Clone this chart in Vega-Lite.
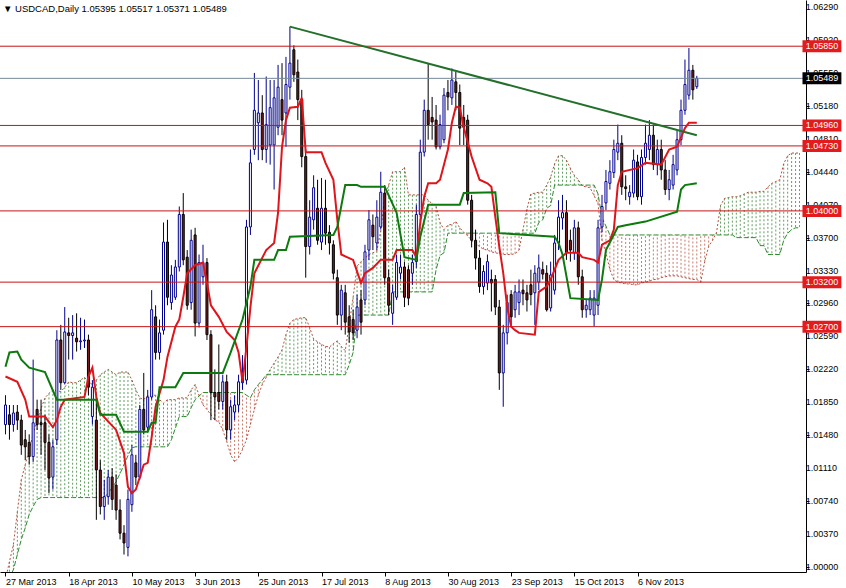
{
"$schema": "https://vega.github.io/schema/vega-lite/v6.json",
"width": 806, "height": 572,
"autosize": {"type": "none"},
"padding": {"left": 0, "top": 0, "right": 40, "bottom": 16},
"background": "white",
"title": {"text": "▼    USDCAD,Daily  1.05395 1.05517 1.05371 1.05489", "anchor": "start", "frame": "group", "orient": "top", "offset": -13, "dx": 3, "fontSize": 9.5, "fontWeight": "normal", "font": "Liberation Sans, sans-serif", "color": "#000"},
"config": {"view": {"stroke": null}, "axis": {"labelFont": "Liberation Sans, sans-serif", "labelFontSize": 9, "labelColor": "#000", "domainColor": "#000", "tickColor": "#000", "domainWidth": 1, "tickWidth": 1, "grid": false, "labelOverlap": false, "labelBound": false, "labelFlush": false}},
"datasets": {
"candles": [
{"i":0,"o":1.016,"h":1.0193,"l":1.0149,"c":1.0182},{"i":1,"o":1.0171,"h":1.0182,"l":1.0143,"c":1.016},{"i":2,"o":1.016,"h":1.0182,"l":1.0152,"c":1.0173},{"i":3,"o":1.0174,"h":1.0182,"l":1.0154,"c":1.0165},{"i":4,"o":1.0165,"h":1.0171,"l":1.0126,"c":1.0137},{"i":5,"o":1.0143,"h":1.0154,"l":1.012,"c":1.0135},{"i":6,"o":1.014,"h":1.0149,"l":1.0115,"c":1.0124},{"i":7,"o":1.0124,"h":1.0233,"l":1.0118,"c":1.0162},{"i":8,"o":1.0177,"h":1.0188,"l":1.0154,"c":1.016},{"i":9,"o":1.0162,"h":1.0188,"l":1.0126,"c":1.016},
{"i":10,"o":1.0162,"h":1.0171,"l":1.0109,"c":1.014},{"i":11,"o":1.014,"h":1.0149,"l":1.0083,"c":1.01},{"i":12,"o":1.0101,"h":1.0143,"l":1.0087,"c":1.0135},{"i":13,"o":1.0143,"h":1.0266,"l":1.0137,"c":1.0255},{"i":14,"o":1.0255,"h":1.0272,"l":1.0199,"c":1.0207},{"i":15,"o":1.0207,"h":1.0292,"l":1.0205,"c":1.0264},{"i":16,"o":1.0263,"h":1.028,"l":1.0233,"c":1.026},{"i":17,"o":1.026,"h":1.0283,"l":1.0233,"c":1.0263},{"i":18,"o":1.0257,"h":1.0285,"l":1.0242,"c":1.0253},{"i":19,"o":1.0253,"h":1.028,"l":1.0244,"c":1.0254},
{"i":20,"o":1.0254,"h":1.0278,"l":1.0246,"c":1.0255},{"i":21,"o":1.0255,"h":1.0261,"l":1.0193,"c":1.0202},{"i":22,"o":1.0169,"h":1.021,"l":1.016,"c":1.0202},{"i":23,"o":1.0165,"h":1.0191,"l":1.0053,"c":1.0109},{"i":24,"o":1.0109,"h":1.012,"l":1.0059,"c":1.0068},{"i":25,"o":1.0068,"h":1.0098,"l":1.0053,"c":1.0079},{"i":26,"o":1.0079,"h":1.0109,"l":1.007,"c":1.0101},{"i":27,"o":1.0101,"h":1.0111,"l":1.0064,"c":1.0076},{"i":28,"o":1.0092,"h":1.0104,"l":1.0053,"c":1.0064},{"i":29,"o":1.0064,"h":1.0076,"l":1.0031,"c":1.0038},
{"i":30,"o":1.0038,"h":1.0047,"l":1.0014,"c":1.0027},{"i":31,"o":1.0022,"h":1.0087,"l":1.0012,"c":1.0076},{"i":32,"o":1.007,"h":1.0137,"l":1.0062,"c":1.0126},{"i":33,"o":1.0117,"h":1.0126,"l":1.0092,"c":1.0101},{"i":34,"o":1.0101,"h":1.0182,"l":1.0098,"c":1.0177},{"i":35,"o":1.0177,"h":1.0218,"l":1.0149,"c":1.0154},{"i":36,"o":1.0157,"h":1.0199,"l":1.0152,"c":1.0191},{"i":37,"o":1.0191,"h":1.0311,"l":1.0188,"c":1.0289},{"i":38,"o":1.0281,"h":1.0294,"l":1.0233,"c":1.0241},{"i":39,"o":1.0241,"h":1.0278,"l":1.0233,"c":1.0263},
{"i":40,"o":1.0266,"h":1.0387,"l":1.0261,"c":1.0365},{"i":41,"o":1.0365,"h":1.039,"l":1.0294,"c":1.0303},{"i":42,"o":1.0297,"h":1.0339,"l":1.0289,"c":1.0328},{"i":43,"o":1.0303,"h":1.0345,"l":1.03,"c":1.0337},{"i":44,"o":1.0337,"h":1.0405,"l":1.0332,"c":1.0396},{"i":45,"o":1.0396,"h":1.042,"l":1.0339,"c":1.0345},{"i":46,"o":1.0348,"h":1.0356,"l":1.0289,"c":1.0294},{"i":47,"o":1.0297,"h":1.0379,"l":1.0289,"c":1.0367},{"i":48,"o":1.0373,"h":1.0381,"l":1.0259,"c":1.0274},{"i":49,"o":1.0274,"h":1.0351,"l":1.0269,"c":1.0342},
{"i":50,"o":1.0326,"h":1.0362,"l":1.0317,"c":1.0342},{"i":51,"o":1.0342,"h":1.0347,"l":1.0255,"c":1.0261},{"i":52,"o":1.0261,"h":1.0266,"l":1.0165,"c":1.0196},{"i":53,"o":1.0196,"h":1.0222,"l":1.0165,"c":1.0191},{"i":54,"o":1.0196,"h":1.025,"l":1.0177,"c":1.0186},{"i":55,"o":1.0186,"h":1.0216,"l":1.0177,"c":1.0208},{"i":56,"o":1.0208,"h":1.0216,"l":1.0143,"c":1.0154},{"i":57,"o":1.0154,"h":1.0188,"l":1.0143,"c":1.018},{"i":58,"o":1.0174,"h":1.0193,"l":1.0165,"c":1.0182},{"i":59,"o":1.0182,"h":1.0216,"l":1.0174,"c":1.0208},
{"i":60,"o":1.0207,"h":1.0238,"l":1.0199,"c":1.0218},{"i":61,"o":1.021,"h":1.039,"l":1.0205,"c":1.0382},{"i":62,"o":1.0382,"h":1.0469,"l":1.0373,"c":1.0454},{"i":63,"o":1.0469,"h":1.0555,"l":1.0463,"c":1.0513},{"i":64,"o":1.0499,"h":1.0547,"l":1.0457,"c":1.051},{"i":65,"o":1.051,"h":1.053,"l":1.0457,"c":1.0469},{"i":66,"o":1.0469,"h":1.0551,"l":1.0454,"c":1.0497},{"i":67,"o":1.0474,"h":1.0547,"l":1.0452,"c":1.0516},{"i":68,"o":1.0474,"h":1.0547,"l":1.0424,"c":1.0527},{"i":69,"o":1.0494,"h":1.0564,"l":1.0485,"c":1.0539},
{"i":70,"o":1.0525,"h":1.0566,"l":1.0485,"c":1.0502},{"i":71,"o":1.051,"h":1.0573,"l":1.0472,"c":1.0542},{"i":72,"o":1.0539,"h":1.0607,"l":1.0525,"c":1.0566},{"i":73,"o":1.0581,"h":1.0586,"l":1.0545,"c":1.0553},{"i":74,"o":1.0556,"h":1.057,"l":1.0502,"c":1.0525},{"i":75,"o":1.0525,"h":1.0536,"l":1.0449,"c":1.0461},{"i":76,"o":1.0461,"h":1.0469,"l":1.0325,"c":1.036},{"i":77,"o":1.036,"h":1.0412,"l":1.0351,"c":1.0393},{"i":78,"o":1.039,"h":1.044,"l":1.0379,"c":1.0426},{"i":79,"o":1.0403,"h":1.0435,"l":1.0362,"c":1.0367},
{"i":80,"o":1.0365,"h":1.0437,"l":1.0356,"c":1.0403},{"i":81,"o":1.0403,"h":1.0435,"l":1.0362,"c":1.0375},{"i":82,"o":1.0376,"h":1.0384,"l":1.0351,"c":1.0364},{"i":83,"o":1.0362,"h":1.0367,"l":1.0323,"c":1.033},{"i":84,"o":1.0325,"h":1.0334,"l":1.0272,"c":1.0283},{"i":85,"o":1.0283,"h":1.0317,"l":1.0266,"c":1.0311},{"i":86,"o":1.0308,"h":1.0317,"l":1.0261,"c":1.0275},{"i":87,"o":1.0281,"h":1.0294,"l":1.0252,"c":1.0264},{"i":88,"o":1.0278,"h":1.0289,"l":1.0255,"c":1.0263},{"i":89,"o":1.0266,"h":1.0306,"l":1.0257,"c":1.0292},
{"i":90,"o":1.03,"h":1.0311,"l":1.0261,"c":1.0275},{"i":91,"o":1.03,"h":1.0362,"l":1.0294,"c":1.0354},{"i":92,"o":1.0356,"h":1.0401,"l":1.0345,"c":1.039},{"i":93,"o":1.0384,"h":1.0396,"l":1.0356,"c":1.0371},{"i":94,"o":1.0364,"h":1.0412,"l":1.0356,"c":1.0393},{"i":95,"o":1.0382,"h":1.0444,"l":1.0379,"c":1.0421},{"i":96,"o":1.042,"h":1.0429,"l":1.0317,"c":1.0325},{"i":97,"o":1.0325,"h":1.0334,"l":1.0283,"c":1.0294},{"i":98,"o":1.0285,"h":1.0317,"l":1.0272,"c":1.0308},{"i":99,"o":1.0303,"h":1.0351,"l":1.03,"c":1.0342},
{"i":100,"o":1.033,"h":1.0351,"l":1.0323,"c":1.0337},{"i":101,"o":1.0337,"h":1.0343,"l":1.0292,"c":1.0303},{"i":102,"o":1.0334,"h":1.0339,"l":1.0294,"c":1.0302},{"i":103,"o":1.033,"h":1.0351,"l":1.0317,"c":1.0342},{"i":104,"o":1.0343,"h":1.0407,"l":1.0336,"c":1.0396},{"i":105,"o":1.0396,"h":1.048,"l":1.0388,"c":1.0466},{"i":106,"o":1.0466,"h":1.0525,"l":1.0461,"c":1.0513},{"i":107,"o":1.0513,"h":1.0566,"l":1.048,"c":1.0497},{"i":108,"o":1.0505,"h":1.0528,"l":1.048,"c":1.05},{"i":109,"o":1.0502,"h":1.0519,"l":1.0469,"c":1.0472},
{"i":110,"o":1.0472,"h":1.0508,"l":1.0469,"c":1.0497},{"i":111,"o":1.048,"h":1.0538,"l":1.0476,"c":1.053},{"i":112,"o":1.0533,"h":1.0547,"l":1.0513,"c":1.0528},{"i":113,"o":1.0527,"h":1.056,"l":1.0519,"c":1.0547},{"i":114,"o":1.0545,"h":1.0556,"l":1.0513,"c":1.0533},{"i":115,"o":1.0533,"h":1.0542,"l":1.0474,"c":1.0493},{"i":116,"o":1.0505,"h":1.0519,"l":1.0474,"c":1.0494},{"i":117,"o":1.0502,"h":1.0508,"l":1.0407,"c":1.0412},{"i":118,"o":1.0412,"h":1.0418,"l":1.0359,"c":1.0367},{"i":119,"o":1.0367,"h":1.0379,"l":1.0334,"c":1.0347},
{"i":120,"o":1.0347,"h":1.0356,"l":1.0308,"c":1.0315},{"i":121,"o":1.0315,"h":1.0339,"l":1.0306,"c":1.0332},{"i":122,"o":1.0319,"h":1.0351,"l":1.0311,"c":1.0343},{"i":123,"o":1.0323,"h":1.0334,"l":1.0287,"c":1.0319},{"i":124,"o":1.0323,"h":1.0328,"l":1.0283,"c":1.0292},{"i":125,"o":1.0292,"h":1.03,"l":1.0199,"c":1.0218},{"i":126,"o":1.0218,"h":1.0272,"l":1.018,"c":1.0263},{"i":127,"o":1.0263,"h":1.0306,"l":1.025,"c":1.0297},{"i":128,"o":1.0306,"h":1.0311,"l":1.0272,"c":1.0281},{"i":129,"o":1.0289,"h":1.0317,"l":1.028,"c":1.0309},
{"i":130,"o":1.0297,"h":1.0323,"l":1.0283,"c":1.0309},{"i":131,"o":1.0311,"h":1.0323,"l":1.0294,"c":1.0307},{"i":132,"o":1.0308,"h":1.0317,"l":1.0287,"c":1.03},{"i":133,"o":1.0317,"h":1.0334,"l":1.0294,"c":1.0306},{"i":134,"o":1.0308,"h":1.0339,"l":1.0272,"c":1.033},{"i":135,"o":1.032,"h":1.0351,"l":1.0311,"c":1.0336},{"i":136,"o":1.0334,"h":1.0343,"l":1.0323,"c":1.0329},{"i":137,"o":1.033,"h":1.0339,"l":1.0287,"c":1.0289},{"i":138,"o":1.0291,"h":1.0343,"l":1.0287,"c":1.0328},{"i":139,"o":1.0311,"h":1.0373,"l":1.0306,"c":1.0364},
{"i":140,"o":1.0364,"h":1.0412,"l":1.0356,"c":1.0393},{"i":141,"o":1.0392,"h":1.0418,"l":1.0379,"c":1.0398},{"i":142,"o":1.0398,"h":1.0412,"l":1.0345,"c":1.0353},{"i":143,"o":1.0367,"h":1.0379,"l":1.0343,"c":1.0356},{"i":144,"o":1.0353,"h":1.039,"l":1.0345,"c":1.0381},{"i":145,"o":1.0381,"h":1.0388,"l":1.0317,"c":1.0326},{"i":146,"o":1.0326,"h":1.0334,"l":1.028,"c":1.0289},{"i":147,"o":1.0289,"h":1.03,"l":1.028,"c":1.0294},{"i":148,"o":1.0289,"h":1.0311,"l":1.0283,"c":1.0302},{"i":149,"o":1.0283,"h":1.0311,"l":1.027,"c":1.0302},
{"i":150,"o":1.0294,"h":1.039,"l":1.0283,"c":1.0381},{"i":151,"o":1.0382,"h":1.0418,"l":1.0376,"c":1.0405},{"i":152,"o":1.0409,"h":1.0446,"l":1.0401,"c":1.0433},{"i":153,"o":1.0431,"h":1.0457,"l":1.0424,"c":1.0444},{"i":154,"o":1.0443,"h":1.048,"l":1.0437,"c":1.0469},{"i":155,"o":1.0466,"h":1.0497,"l":1.0457,"c":1.0476},{"i":156,"o":1.0476,"h":1.0485,"l":1.0418,"c":1.0427},{"i":157,"o":1.0427,"h":1.044,"l":1.0412,"c":1.0425},{"i":158,"o":1.0416,"h":1.0429,"l":1.0407,"c":1.0421},{"i":159,"o":1.042,"h":1.0469,"l":1.0415,"c":1.0457},
{"i":160,"o":1.0455,"h":1.0463,"l":1.0412,"c":1.0416},{"i":161,"o":1.0416,"h":1.0469,"l":1.0407,"c":1.046},{"i":162,"o":1.046,"h":1.0497,"l":1.0452,"c":1.0476},{"i":163,"o":1.0469,"h":1.0502,"l":1.0457,"c":1.0485},{"i":164,"o":1.0485,"h":1.0497,"l":1.0446,"c":1.0452},{"i":165,"o":1.0452,"h":1.048,"l":1.044,"c":1.0469},{"i":166,"o":1.0469,"h":1.048,"l":1.0435,"c":1.0446},{"i":167,"o":1.0446,"h":1.0457,"l":1.0418,"c":1.0424},{"i":168,"o":1.0424,"h":1.0446,"l":1.0412,"c":1.0435},{"i":169,"o":1.0429,"h":1.0463,"l":1.0424,"c":1.0452},
{"i":170,"o":1.0446,"h":1.0491,"l":1.044,"c":1.048},{"i":171,"o":1.048,"h":1.0525,"l":1.0474,"c":1.0513},{"i":172,"o":1.0513,"h":1.057,"l":1.0508,"c":1.0542},{"i":173,"o":1.053,"h":1.0583,"l":1.0525,"c":1.0558},{"i":174,"o":1.0558,"h":1.0564,"l":1.0525,"c":1.0536},{"i":175,"o":1.05395,"h":1.05517,"l":1.05371,"c":1.05489}
],
"cloud": [
{"i":0,"a":0.9986,"b":0.998},{"i":1,"a":1.0006,"b":0.9988},{"i":2,"a":1.0025,"b":0.9997},{"i":3,"a":1.0062,"b":1.0014},{"i":4,"a":1.0098,"b":1.0031},{"i":5,"a":1.0115,"b":1.0044},{"i":6,"a":1.0132,"b":1.0059},{"i":7,"a":1.0149,"b":1.0068},{"i":8,"a":1.0165,"b":1.0076},{"i":9,"a":1.0178,"b":1.0078},
{"i":10,"a":1.019,"b":1.0078},{"i":11,"a":1.0195,"b":1.0078},{"i":12,"a":1.0199,"b":1.0078},{"i":13,"a":1.0198,"b":1.0078},{"i":14,"a":1.0197,"b":1.0078},{"i":15,"a":1.0202,"b":1.0078},{"i":16,"a":1.0208,"b":1.0078},{"i":17,"a":1.0207,"b":1.0078},{"i":18,"a":1.0207,"b":1.0078},{"i":19,"a":1.021,"b":1.0078},
{"i":20,"a":1.0213,"b":1.0078},{"i":21,"a":1.0208,"b":1.0078},{"i":22,"a":1.0205,"b":1.0078},{"i":23,"a":1.021,"b":1.0078},{"i":24,"a":1.0216,"b":1.0078},{"i":25,"a":1.0219,"b":1.0078},{"i":26,"a":1.0222,"b":1.0083},{"i":27,"a":1.0219,"b":1.0089},{"i":28,"a":1.0216,"b":1.0096},{"i":29,"a":1.0219,"b":1.0105},
{"i":30,"a":1.0219,"b":1.0115},{"i":31,"a":1.0219,"b":1.0125},{"i":32,"a":1.021,"b":1.0134},{"i":33,"a":1.0199,"b":1.0135},{"i":34,"a":1.019,"b":1.0135},{"i":35,"a":1.0188,"b":1.0135},{"i":36,"a":1.0193,"b":1.0135},{"i":37,"a":1.0193,"b":1.0135},{"i":38,"a":1.0193,"b":1.0135},{"i":39,"a":1.0188,"b":1.0135},
{"i":40,"a":1.0184,"b":1.0135},{"i":41,"a":1.0188,"b":1.0135},{"i":42,"a":1.0188,"b":1.0143},{"i":43,"a":1.0188,"b":1.0156},{"i":44,"a":1.019,"b":1.0169},{"i":45,"a":1.019,"b":1.0169},{"i":46,"a":1.019,"b":1.0169},{"i":47,"a":1.0199,"b":1.0179},{"i":48,"a":1.0205,"b":1.0188},{"i":49,"a":1.0193,"b":1.0192},
{"i":50,"a":1.0182,"b":1.0196},{"i":51,"a":1.0177,"b":1.0196},{"i":52,"a":1.0171,"b":1.0196},{"i":53,"a":1.0165,"b":1.0196},{"i":54,"a":1.0163,"b":1.0196},{"i":55,"a":1.0154,"b":1.0196},{"i":56,"a":1.0141,"b":1.0196},{"i":57,"a":1.0126,"b":1.0196},{"i":58,"a":1.0118,"b":1.0196},{"i":59,"a":1.0123,"b":1.0196},
{"i":60,"a":1.0132,"b":1.0196},{"i":61,"a":1.0143,"b":1.0193},{"i":62,"a":1.016,"b":1.019},{"i":63,"a":1.0177,"b":1.0199},{"i":64,"a":1.0193,"b":1.0205},{"i":65,"a":1.0205,"b":1.021},{"i":66,"a":1.0213,"b":1.0216},{"i":67,"a":1.0222,"b":1.0216},{"i":68,"a":1.0229,"b":1.0216},{"i":69,"a":1.0236,"b":1.0216},
{"i":70,"a":1.0244,"b":1.0216},{"i":71,"a":1.0261,"b":1.0216},{"i":72,"a":1.0274,"b":1.0216},{"i":73,"a":1.0278,"b":1.0216},{"i":74,"a":1.0279,"b":1.0216},{"i":75,"a":1.028,"b":1.0216},{"i":76,"a":1.028,"b":1.0216},{"i":77,"a":1.0269,"b":1.0216},{"i":78,"a":1.0256,"b":1.0216},{"i":79,"a":1.0253,"b":1.0216},
{"i":80,"a":1.025,"b":1.0216},{"i":81,"a":1.0248,"b":1.0216},{"i":82,"a":1.0247,"b":1.0216},{"i":83,"a":1.0251,"b":1.0216},{"i":84,"a":1.0254,"b":1.0216},{"i":85,"a":1.0248,"b":1.0216},{"i":86,"a":1.0243,"b":1.0216},{"i":87,"a":1.0272,"b":1.0227},{"i":88,"a":1.0303,"b":1.0241},{"i":89,"a":1.0338,"b":1.0283},
{"i":90,"a":1.0343,"b":1.0283},{"i":91,"a":1.0347,"b":1.0283},{"i":92,"a":1.0351,"b":1.0283},{"i":93,"a":1.0353,"b":1.0283},{"i":94,"a":1.0355,"b":1.0283},{"i":95,"a":1.0378,"b":1.0283},{"i":96,"a":1.0415,"b":1.0283},{"i":97,"a":1.0429,"b":1.0283},{"i":98,"a":1.0444,"b":1.0309},{"i":99,"a":1.0444,"b":1.0309},
{"i":100,"a":1.0444,"b":1.0309},{"i":101,"a":1.0449,"b":1.0309},{"i":102,"a":1.0418,"b":1.0309},{"i":103,"a":1.0418,"b":1.0309},{"i":104,"a":1.0418,"b":1.0309},{"i":105,"a":1.0418,"b":1.0309},{"i":106,"a":1.0418,"b":1.0309},{"i":107,"a":1.0412,"b":1.0309},{"i":108,"a":1.0408,"b":1.0309},{"i":109,"a":1.0405,"b":1.0334},
{"i":110,"a":1.0387,"b":1.035},{"i":111,"a":1.0379,"b":1.0353},{"i":112,"a":1.0384,"b":1.0375},{"i":113,"a":1.0385,"b":1.0375},{"i":114,"a":1.0388,"b":1.0375},{"i":115,"a":1.0381,"b":1.0375},{"i":116,"a":1.0376,"b":1.0375},{"i":117,"a":1.0372,"b":1.0375},{"i":118,"a":1.0367,"b":1.0375},{"i":119,"a":1.0363,"b":1.0375},
{"i":120,"a":1.036,"b":1.0375},{"i":121,"a":1.0357,"b":1.0375},{"i":122,"a":1.0356,"b":1.0375},{"i":123,"a":1.0354,"b":1.0375},{"i":124,"a":1.0353,"b":1.0375},{"i":125,"a":1.0352,"b":1.0375},{"i":126,"a":1.0351,"b":1.0375},{"i":127,"a":1.0351,"b":1.0375},{"i":128,"a":1.0351,"b":1.0375},{"i":129,"a":1.0352,"b":1.0375},
{"i":130,"a":1.0356,"b":1.0375},{"i":131,"a":1.0379,"b":1.0375},{"i":132,"a":1.0402,"b":1.0375},{"i":133,"a":1.0419,"b":1.0375},{"i":134,"a":1.042,"b":1.0375},{"i":135,"a":1.0421,"b":1.0387},{"i":136,"a":1.0421,"b":1.039},{"i":137,"a":1.0429,"b":1.0403},{"i":138,"a":1.0438,"b":1.0406},{"i":139,"a":1.0453,"b":1.0429},
{"i":140,"a":1.0462,"b":1.0429},{"i":141,"a":1.0462,"b":1.0429},{"i":142,"a":1.0457,"b":1.0429},{"i":143,"a":1.0448,"b":1.0429},{"i":144,"a":1.044,"b":1.0429},{"i":145,"a":1.0435,"b":1.0429},{"i":146,"a":1.0428,"b":1.0429},{"i":147,"a":1.0427,"b":1.0429},{"i":148,"a":1.0426,"b":1.0429},{"i":149,"a":1.0417,"b":1.0429},
{"i":150,"a":1.0408,"b":1.0419},{"i":151,"a":1.0367,"b":1.0392},{"i":152,"a":1.0353,"b":1.0383},{"i":153,"a":1.0334,"b":1.0373},{"i":154,"a":1.0323,"b":1.0373},{"i":155,"a":1.032,"b":1.0373},{"i":156,"a":1.0319,"b":1.0373},{"i":157,"a":1.0318,"b":1.0373},{"i":158,"a":1.0318,"b":1.0373},{"i":159,"a":1.0317,"b":1.0373},
{"i":160,"a":1.0317,"b":1.0373},{"i":161,"a":1.0319,"b":1.0373},{"i":162,"a":1.032,"b":1.0373},{"i":163,"a":1.0321,"b":1.0373},{"i":164,"a":1.0323,"b":1.0373},{"i":165,"a":1.0323,"b":1.0373},{"i":166,"a":1.0325,"b":1.0373},{"i":167,"a":1.0326,"b":1.0373},{"i":168,"a":1.0327,"b":1.0373},{"i":169,"a":1.0327,"b":1.0373},
{"i":170,"a":1.0327,"b":1.0373},{"i":171,"a":1.0326,"b":1.0373},{"i":172,"a":1.0325,"b":1.0373},{"i":173,"a":1.0324,"b":1.0373},{"i":174,"a":1.0323,"b":1.0373},{"i":175,"a":1.0323,"b":1.0373},{"i":176,"a":1.032,"b":1.0373},{"i":177,"a":1.0343,"b":1.0373},{"i":178,"a":1.036,"b":1.0373},{"i":179,"a":1.0367,"b":1.0373},
{"i":180,"a":1.0376,"b":1.0373},{"i":181,"a":1.0406,"b":1.0373},{"i":182,"a":1.0414,"b":1.0373},{"i":183,"a":1.0415,"b":1.0373},{"i":184,"a":1.0416,"b":1.0373},{"i":185,"a":1.0416,"b":1.037},{"i":186,"a":1.0417,"b":1.037},{"i":187,"a":1.0419,"b":1.037},{"i":188,"a":1.0421,"b":1.037},{"i":189,"a":1.0421,"b":1.037},
{"i":190,"a":1.0421,"b":1.037},{"i":191,"a":1.0422,"b":1.0361},{"i":192,"a":1.0422,"b":1.0361},{"i":193,"a":1.0427,"b":1.0351},{"i":194,"a":1.0431,"b":1.0351},{"i":195,"a":1.0433,"b":1.0351},{"i":196,"a":1.0435,"b":1.0351},{"i":197,"a":1.0453,"b":1.0367},{"i":198,"a":1.0462,"b":1.0375},{"i":199,"a":1.0465,"b":1.0379},
{"i":200,"a":1.0465,"b":1.0381},{"i":201,"a":1.0465,"b":1.0381}
],
"tenkan": [
{"i":0,"v":1.0214},{"i":3,"v":1.0208},{"i":5,"v":1.0188},{"i":6,"v":1.0169},{"i":10,"v":1.0169},{"i":12,"v":1.0157},{"i":13,"v":1.0165},{"i":14,"v":1.018},{"i":15,"v":1.0188},{"i":20,"v":1.0191},{"i":21,"v":1.0214},{"i":22,"v":1.0224},{"i":23,"v":1.0191},{"i":24,"v":1.0173},{"i":28,"v":1.0154},{"i":30,"v":1.0128},{"i":31,"v":1.009},{"i":32,"v":1.0083},{"i":33,"v":1.0087},{"i":35,"v":1.0115},{"i":36,"v":1.0117},{"i":37,"v":1.0146},{"i":38,"v":1.018},{"i":40,"v":1.021},{"i":41,"v":1.0236},{"i":43,"v":1.027},{"i":44,"v":1.0278},{"i":45,"v":1.0303},{"i":46,"v":1.033},{"i":48,"v":1.0339},{"i":50,"v":1.0342},{"i":51,"v":1.0319},{"i":52,"v":1.0294},{"i":54,"v":1.0281},{"i":56,"v":1.0264},{"i":58,"v":1.0255},{"i":59,"v":1.0241},{"i":60,"v":1.0208},{"i":61,"v":1.0247},{"i":62,"v":1.0292},{"i":63,"v":1.033},{"i":66,"v":1.0356},{"i":68,"v":1.0364},{"i":69,"v":1.0398},{"i":70,"v":1.0472},{"i":71,"v":1.0502},{"i":72,"v":1.0516},{"i":74,"v":1.0517},{"i":75,"v":1.0527},{"i":76,"v":1.0466},{"i":80,"v":1.0466},{"i":81,"v":1.0454},{"i":83,"v":1.0435},{"i":84,"v":1.039},{"i":85,"v":1.0351},{"i":88,"v":1.0345},{"i":90,"v":1.0319},{"i":91,"v":1.033},{"i":93,"v":1.0336},{"i":95,"v":1.0345},{"i":98,"v":1.0345},{"i":99,"v":1.0356},{"i":103,"v":1.0356},{"i":104,"v":1.0348},{"i":105,"v":1.0387},{"i":106,"v":1.0416},{"i":107,"v":1.0431},{"i":109,"v":1.0431},{"i":110,"v":1.0435},{"i":112,"v":1.0469},{"i":113,"v":1.0499},{"i":114,"v":1.0517},{"i":115,"v":1.0516},{"i":116,"v":1.0494},{"i":118,"v":1.0461},{"i":120,"v":1.0435},{"i":122,"v":1.0431},{"i":123,"v":1.0427},{"i":124,"v":1.0393},{"i":125,"v":1.036},{"i":126,"v":1.033},{"i":127,"v":1.0292},{"i":128,"v":1.027},{"i":129,"v":1.0266},{"i":130,"v":1.0263},{"i":134,"v":1.0261},{"i":135,"v":1.0309},{"i":137,"v":1.0315},{"i":138,"v":1.0323},{"i":140,"v":1.0345},{"i":142,"v":1.0353},{"i":145,"v":1.0353},{"i":146,"v":1.0348},{"i":149,"v":1.0345},{"i":150,"v":1.0342},{"i":151,"v":1.0362},{"i":153,"v":1.0367},{"i":154,"v":1.0379},{"i":155,"v":1.0429},{"i":156,"v":1.0444},{"i":160,"v":1.0448},{"i":162,"v":1.0454},{"i":166,"v":1.0452},{"i":168,"v":1.0469},{"i":170,"v":1.0472},{"i":172,"v":1.0493},{"i":173,"v":1.0499},{"i":175,"v":1.0499}
],
"kijun": [
{"i":0,"v":1.0225},{"i":1,"v":1.0241},{"i":3,"v":1.0242},{"i":4,"v":1.0233},{"i":6,"v":1.0224},{"i":10,"v":1.0219},{"i":13,"v":1.0188},{"i":23,"v":1.0188},{"i":24,"v":1.0171},{"i":28,"v":1.0171},{"i":30,"v":1.0152},{"i":36,"v":1.0152},{"i":37,"v":1.0162},{"i":38,"v":1.0162},{"i":39,"v":1.0202},{"i":43,"v":1.0202},{"i":45,"v":1.0218},{"i":55,"v":1.0218},{"i":57,"v":1.0241},{"i":60,"v":1.0278},{"i":62,"v":1.0315},{"i":63,"v":1.0345},{"i":68,"v":1.0345},{"i":69,"v":1.0356},{"i":71,"v":1.0356},{"i":72,"v":1.0371},{"i":83,"v":1.0373},{"i":84,"v":1.0382},{"i":86,"v":1.0429},{"i":89,"v":1.0429},{"i":90,"v":1.0427},{"i":96,"v":1.0427},{"i":99,"v":1.0398},{"i":101,"v":1.0348},{"i":104,"v":1.0345},{"i":105,"v":1.0371},{"i":107,"v":1.0407},{"i":115,"v":1.0407},{"i":116,"v":1.042},{"i":124,"v":1.0421},{"i":125,"v":1.0375},{"i":139,"v":1.0371},{"i":140,"v":1.0364},{"i":141,"v":1.0351},{"i":143,"v":1.0302},{"i":150,"v":1.03},{"i":151,"v":1.0323},{"i":152,"v":1.0356},{"i":155,"v":1.0382},{"i":157,"v":1.0384},{"i":162,"v":1.0388},{"i":170,"v":1.0399},{"i":171,"v":1.0424},{"i":172,"v":1.0429},{"i":175,"v":1.0431}
],
"trend": [{"i":72,"v":1.0607},{"i":175,"v":1.0485}],
"levels": [{"v":1.0585,"t":"1.05850"},{"v":1.0496,"t":"1.04960"},{"v":1.0473,"t":"1.04730"},{"v":1.04,"t":"1.04000"},{"v":1.032,"t":"1.03200"},{"v":1.027,"t":"1.02700"}],
"last": [{"v":1.05489,"t":"1.05489"}],
"yticks": [{"v":1.0629},{"v":1.0592},{"v":1.0555},{"v":1.0518},{"v":1.0481},{"v":1.0444},{"v":1.0407},{"v":1.037},{"v":1.0333},{"v":1.0296},{"v":1.0259},{"v":1.0222},{"v":1.0185},{"v":1.0148},{"v":1.0111},{"v":1.0074},{"v":1.0037},{"v":1.0}]
},
"layer": [
{"data": {"name": "cloud"}, "mark": {"type": "rule", "strokeDash": [2, 2], "strokeWidth": 1, "clip": true},
 "encoding": {"x": {"field": "i", "type": "quantitative", "scale": {"domain": [-0.125, 201.375], "nice": false, "zero": false}, "title": null,
   "axis": {"values": [0, 16, 32, 48, 64, 80, 96, 112, 128, 144, 160], "labelExpr": "['27 Mar 2013','18 Apr 2013','10 May 2013','3 Jun 2013','25 Jun 2013','17 Jul 2013','8 Aug 2013','30 Aug 2013','23 Sep 2013','15 Oct 2013','6 Nov 2013'][round(datum.value/16)]", "labelAlign": "left", "labelDx": 2, "labelPadding": 1, "labelBaseline": "top", "tickSize": 4, "labelOverlap": false, "labelFlush": false, "labelBound": false}},
  "y": {"field": "a", "type": "quantitative", "scale": {"domain": [0.99944, 1.06369], "nice": false, "zero": false}, "title": null,
   "axis": {"orient": "right", "values": [1.0629, 1.0592, 1.0555, 1.0518, 1.0481, 1.0444, 1.0407, 1.037, 1.0333, 1.0296, 1.0259, 1.0222, 1.0185, 1.0148, 1.0111, 1.0074, 1.0037, 1.0], "labels": false, "tickSize": 3}},
  "y2": {"field": "b"},
  "color": {"condition": {"test": "datum.a >= datum.b", "value": "#5f9f5f"}, "value": "#c87a6a"}}},
{"data": {"name": "cloud"}, "mark": {"type": "line", "stroke": "#b5503c", "strokeWidth": 1, "strokeDash": [2, 2], "clip": true},
 "encoding": {"x": {"field": "i", "type": "quantitative", "scale": {"domain": [-0.125, 201.375], "nice": false, "zero": false}, "title": null},
  "y": {"field": "a", "type": "quantitative", "scale": {"domain": [0.99944, 1.06369], "nice": false, "zero": false}, "title": null}}},
{"data": {"name": "cloud"}, "mark": {"type": "line", "stroke": "#2f8a2f", "strokeWidth": 1, "strokeDash": [5, 2], "clip": true},
 "encoding": {"x": {"field": "i", "type": "quantitative", "scale": {"domain": [-0.125, 201.375], "nice": false, "zero": false}, "title": null},
  "y": {"field": "b", "type": "quantitative", "scale": {"domain": [0.99944, 1.06369], "nice": false, "zero": false}, "title": null}}},
{"data": {"name": "candles"}, "mark": {"type": "rule", "strokeWidth": 1, "clip": true},
 "encoding": {"x": {"field": "i", "type": "quantitative", "scale": {"domain": [-0.125, 201.375], "nice": false, "zero": false}, "title": null},
  "y": {"field": "l", "type": "quantitative", "scale": {"domain": [0.99944, 1.06369], "nice": false, "zero": false}, "title": null},
  "y2": {"field": "h"},
  "color": {"condition": {"test": "datum.c >= datum.o", "value": "#000090"}, "value": "#000000"}}},
{"data": {"name": "candles"}, "mark": {"type": "bar", "size": 2, "strokeWidth": 1, "clip": true},
 "encoding": {"x": {"field": "i", "type": "quantitative", "scale": {"domain": [-0.125, 201.375], "nice": false, "zero": false}, "title": null},
  "y": {"field": "o", "type": "quantitative", "scale": {"domain": [0.99944, 1.06369], "nice": false, "zero": false}, "title": null},
  "y2": {"field": "c"},
  "fill": {"condition": {"test": "datum.c >= datum.o", "value": "#ffffff"}, "value": "#7d1c1c"},
  "stroke": {"condition": {"test": "datum.c >= datum.o", "value": "#000090"}, "value": "#000000"}}},
{"data": {"name": "levels"}, "mark": {"type": "rule", "stroke": "#c81414", "strokeWidth": 1},
 "encoding": {"y": {"field": "v", "type": "quantitative", "scale": {"domain": [0.99944, 1.06369], "nice": false, "zero": false}, "title": null}}},
{"data": {"name": "last"}, "mark": {"type": "rule", "stroke": "#778899", "strokeWidth": 1},
 "encoding": {"y": {"field": "v", "type": "quantitative", "scale": {"domain": [0.99944, 1.06369], "nice": false, "zero": false}, "title": null}}},
{"data": {"name": "tenkan"}, "mark": {"type": "line", "stroke": "#e0141a", "strokeWidth": 2, "clip": true},
 "encoding": {"x": {"field": "i", "type": "quantitative", "scale": {"domain": [-0.125, 201.375], "nice": false, "zero": false}, "title": null},
  "y": {"field": "v", "type": "quantitative", "scale": {"domain": [0.99944, 1.06369], "nice": false, "zero": false}, "title": null}}},
{"data": {"name": "kijun"}, "mark": {"type": "line", "stroke": "#0c7a0c", "strokeWidth": 2, "clip": true},
 "encoding": {"x": {"field": "i", "type": "quantitative", "scale": {"domain": [-0.125, 201.375], "nice": false, "zero": false}, "title": null},
  "y": {"field": "v", "type": "quantitative", "scale": {"domain": [0.99944, 1.06369], "nice": false, "zero": false}, "title": null}}},
{"data": {"name": "trend"}, "mark": {"type": "line", "stroke": "#23702a", "strokeWidth": 2},
 "encoding": {"x": {"field": "i", "type": "quantitative", "scale": {"domain": [-0.125, 201.375], "nice": false, "zero": false}, "title": null},
  "y": {"field": "v", "type": "quantitative", "scale": {"domain": [0.99944, 1.06369], "nice": false, "zero": false}, "title": null}}},
{"data": {"name": "yticks"}, "mark": {"type": "text", "color": "#000000", "fontSize": 9, "font": "Liberation Sans, sans-serif", "align": "left", "baseline": "middle"},
 "encoding": {"x": {"datum": 202.6, "type": "quantitative", "scale": {"domain": [-0.125, 201.375], "nice": false, "zero": false}, "title": null},
  "y": {"field": "v", "type": "quantitative", "scale": {"domain": [0.99944, 1.06369], "nice": false, "zero": false}, "title": null}, "text": {"field": "v", "type": "quantitative", "format": ".5f"}}},
{"data": {"name": "levels"}, "mark": {"type": "rect", "fill": "#e41a1c", "yOffset": -6, "y2Offset": 6},
 "encoding": {"x": {"datum": 201.75, "type": "quantitative", "scale": {"domain": [-0.125, 201.375], "nice": false, "zero": false}, "title": null}, "x2": {"datum": 211.6},
  "y": {"field": "v", "type": "quantitative", "scale": {"domain": [0.99944, 1.06369], "nice": false, "zero": false}, "title": null}, "y2": {"field": "v"}}},
{"data": {"name": "last"}, "mark": {"type": "rect", "fill": "#000000", "yOffset": -6, "y2Offset": 6},
 "encoding": {"x": {"datum": 201.75, "type": "quantitative", "scale": {"domain": [-0.125, 201.375], "nice": false, "zero": false}, "title": null}, "x2": {"datum": 211.6},
  "y": {"field": "v", "type": "quantitative", "scale": {"domain": [0.99944, 1.06369], "nice": false, "zero": false}, "title": null}, "y2": {"field": "v"}}},
{"data": {"name": "levels"}, "mark": {"type": "text", "color": "#ffffff", "fontSize": 9, "font": "Liberation Sans, sans-serif", "align": "center", "baseline": "middle"},
 "encoding": {"x": {"datum": 206.7, "type": "quantitative", "scale": {"domain": [-0.125, 201.375], "nice": false, "zero": false}, "title": null},
  "y": {"field": "v", "type": "quantitative", "scale": {"domain": [0.99944, 1.06369], "nice": false, "zero": false}, "title": null}, "text": {"field": "t"}}},
{"data": {"name": "last"}, "mark": {"type": "text", "color": "#ffffff", "fontSize": 9, "font": "Liberation Sans, sans-serif", "align": "center", "baseline": "middle"},
 "encoding": {"x": {"datum": 206.7, "type": "quantitative", "scale": {"domain": [-0.125, 201.375], "nice": false, "zero": false}, "title": null},
  "y": {"field": "v", "type": "quantitative", "scale": {"domain": [0.99944, 1.06369], "nice": false, "zero": false}, "title": null}, "text": {"field": "t"}}}
]
}
